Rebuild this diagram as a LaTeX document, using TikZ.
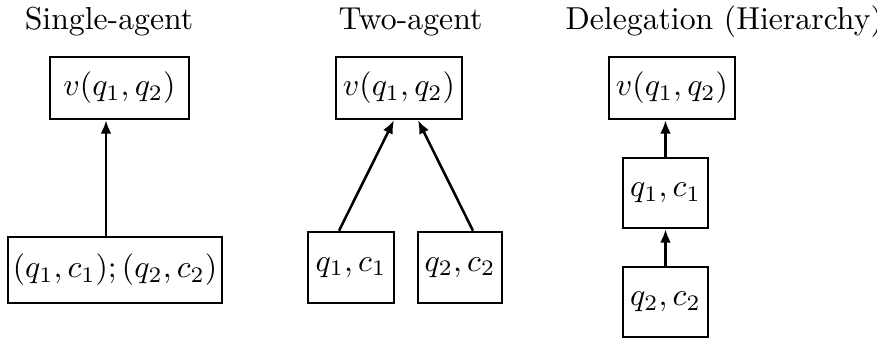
\documentclass[tikz,border=0pt]{standalone}
\usetikzlibrary{arrows.meta}
\newcommand{\pxu}{0.315pt}
\begin{document}
\begin{tikzpicture}[x=0.315pt,y=-0.315pt,
  box/.style={draw,line width=0.8pt,inner sep=0pt,anchor=center},
  arr/.style={line width=0.8pt,-{Latex[length=4.2pt,width=3.4pt]}},
  ttl/.style={anchor=base,inner sep=0pt,font=\normalsize}]
\useasboundingbox (0,0) rectangle (877,341);
% titles
\node[ttl] (t1) at (109,30) {Single-agent};
\node[ttl] (t2) at (410.5,30) {Two-agent};
\node[ttl,anchor=base west] (t3) at (565,30) {Delegation (Hierarchy)};
% single-agent
\node[box,minimum width=139*\pxu,minimum height=62*\pxu] (sA) at (119.5,88) {$v(q_1,q_2)$};
\node[box,minimum width=214*\pxu,minimum height=66*\pxu] (sB) at (115,270) {$(q_1,c_1);(q_2,c_2)$};
\draw[arr] ([xshift=-9*\pxu]sB.north) -- ([xshift=-13.5*\pxu]sA.south);
% two-agent
\node[box,minimum width=126*\pxu,minimum height=62*\pxu] (tA) at (399,88) {$v(q_1,q_2)$};
\node[box,minimum width=86*\pxu,minimum height=71*\pxu] (tB1) at (351,267.5) {$q_1,c_1$};
\node[box,minimum width=84*\pxu,minimum height=71*\pxu] (tB2) at (460,267.5) {$q_2,c_2$};
\draw[arr] ([xshift=-12*\pxu]tB1.north) -- ([xshift=-5*\pxu]tA.south);
\draw[arr] ([xshift=13*\pxu]tB2.north) -- ([xshift=19*\pxu]tA.south);
% delegation
\node[box,minimum width=126*\pxu,minimum height=62*\pxu] (dA) at (672,88) {$v(q_1,q_2)$};
\node[box,minimum width=85*\pxu,minimum height=70*\pxu] (dB) at (665.5,193) {$q_1,c_1$};
\node[box,minimum width=85*\pxu,minimum height=70*\pxu] (dC) at (665.5,302) {$q_2,c_2$};
\draw[arr] (dB.north) -- ([xshift=-6.5*\pxu]dA.south);
\draw[arr] (dC.north) -- (dB.south);
\end{tikzpicture}
\end{document}
